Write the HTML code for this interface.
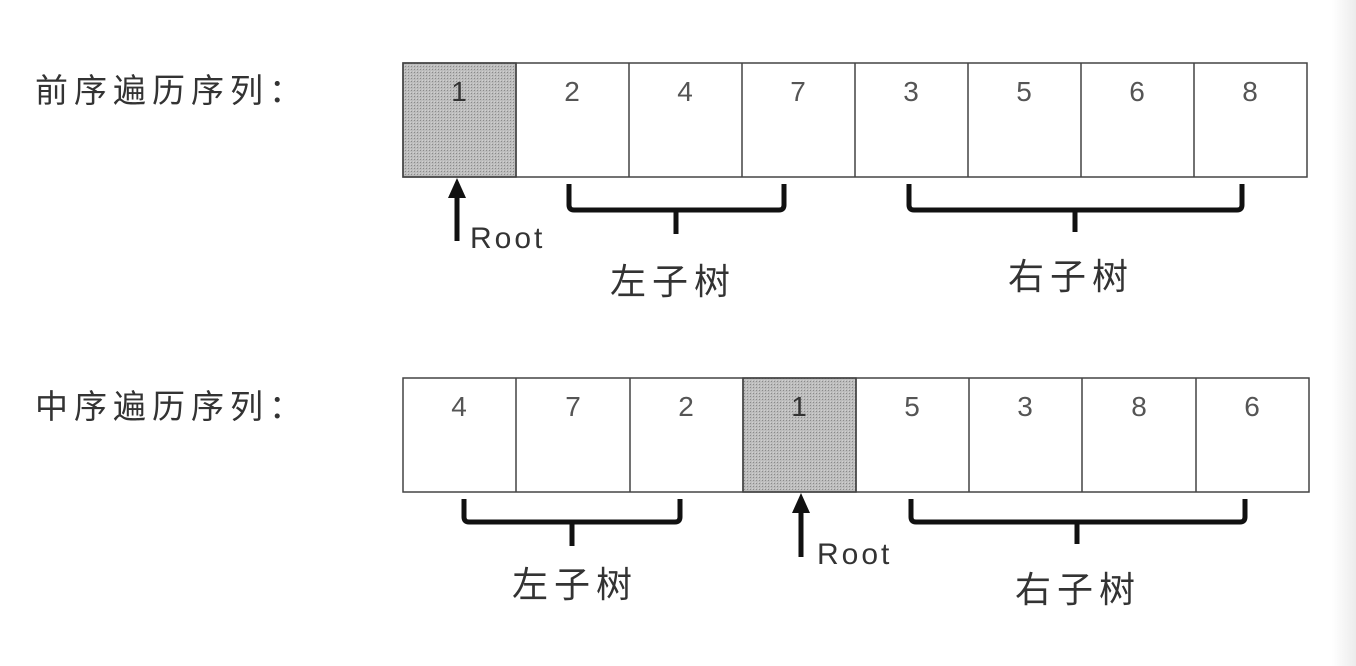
<!DOCTYPE html>
<html><head><meta charset="utf-8"><style>
body{margin:0;width:1356px;height:666px;background:#fff;overflow:hidden;position:relative}
.strip{position:absolute;left:1332px;top:0;width:24px;height:666px;background:linear-gradient(90deg,#fff,#ececec)}
</style></head><body>
<div class="strip"></div>
<svg width="1356" height="666" style="position:absolute;left:0;top:0" font-family="Liberation Sans, Noto Sans CJK SC, sans-serif">
<defs><pattern id="d" width="3" height="3" patternUnits="userSpaceOnUse"><rect width="3" height="3" fill="#bdbdbd"/><rect width="1" height="1" fill="#8a8a8a"/><rect x="2" y="2" width="1" height="1" fill="#d0d0d0"/></pattern></defs>
<g fill="#333" font-size="33" letter-spacing="6">
<text x="35" y="102">前序遍历序列：</text>
<text x="35" y="418">中序遍历序列：</text>
</g>
<g stroke="#444" stroke-width="1.5" fill="none">
<rect x="403" y="63" width="113" height="114" fill="url(#d)"/>
<rect x="403" y="63" width="904" height="114"/>
<path d="M516 63V177M629 63V177M742 63V177M855 63V177M968 63V177M1081 63V177M1194 63V177"/>
<rect x="743" y="378" width="113" height="114" fill="url(#d)"/>
<rect x="403" y="378" width="906" height="114"/>
<path d="M516 378V492M630 378V492M743 378V492M856 378V492M969 378V492M1082 378V492M1196 378V492"/>
</g>
<g fill="#555" font-size="28" text-anchor="middle">
<text x="459" y="101" fill="#333">1</text><text x="572" y="101">2</text><text x="685" y="101">4</text><text x="798" y="101">7</text><text x="911" y="101">3</text><text x="1024" y="101">5</text><text x="1137" y="101">6</text><text x="1250" y="101">8</text>
<text x="459" y="416">4</text><text x="573" y="416">7</text><text x="686" y="416">2</text><text x="799" y="416" fill="#333">1</text><text x="912" y="416">5</text><text x="1025" y="416">3</text><text x="1139" y="416">8</text><text x="1252" y="416">6</text>
</g>
<g stroke="#111" stroke-width="5" fill="none" stroke-linejoin="round">
<path d="M569 184V205Q569 210 574 210H779Q784 210 784 205V184M676 210V234"/>
<path d="M909 184V205Q909 210 914 210H1237Q1242 210 1242 205V184M1075 210V232"/>
<path d="M464 499V517Q464 522 469 522H675Q680 522 680 517V499M572 522V546"/>
<path d="M911 499V517Q911 522 916 522H1240Q1245 522 1245 517V499M1077 522V544"/>
<path d="M457 195V241M801 510V557"/>
</g>
<g fill="#111"><path d="M448 198L457 178L466 198Z"/><path d="M792 513L801 493L810 513Z"/></g>
<g fill="#333" font-size="30" letter-spacing="3">
<text x="470" y="248">Root</text>
<text x="817" y="564">Root</text>
</g>
<g fill="#333" font-size="36" letter-spacing="6" text-anchor="middle">
<text x="673" y="294">左子树</text>
<text x="1071" y="289">右子树</text>
<text x="575" y="597">左子树</text>
<text x="1078" y="602">右子树</text>
</g>
</svg>
</body></html>
